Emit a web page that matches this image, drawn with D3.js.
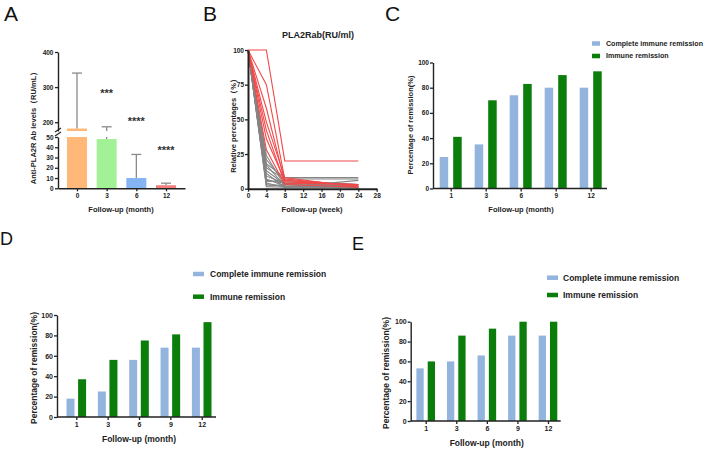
<!DOCTYPE html>
<html>
<head>
<meta charset="utf-8">
<script src="https://cdn.jsdelivr.net/npm/d3@7"></script>
<style>
body { margin: 0; background: #fff; }
svg { display: block; font-family: "Liberation Sans", Arial, sans-serif; }
</style>
</head>
<body>
<svg id="fig" width="708" height="449"></svg>
<script>
// panel A: anti-PLA2R antibody levels
var abMonths = ["0", "3", "6", "12"];
var abMean = [182, 48, 10, 3];
var abUpper = [340, 187, 33, 5];
var abStars = ["", "***", "****", "****"];
var abStarLevel = [null, 290, 209, 39];
var abColors = ["#ffb877", "#a3f197", "#84b5f2", "#f47e7e"];

// panel B: relative PLA2Rab per patient
var weeks = [0, 4, 8, 24];
var redCases = [
    [100, 100, 20, 20],
    [100, 75, 7, 2],
    [100, 58, 5, 3],
    [100, 48, 8, 1],
    [100, 42, 4, 3],
    [100, 36, 6, 2],
    [100, 28, 3, 1]
];
var greyCases = [
    [100, 24, 2, 1],
    [100, 21, 5, 3],
    [100, 18, 8, 8],
    [100, 17, 2, 1],
    [100, 15, 7, 7],
    [100, 13, 3, 2],
    [100, 11, 1, 6],
    [100, 9, 4, 3],
    [100, 7, 2, 1],
    [100, 6, 4, 2],
    [100, 5, 6, 3],
    [100, 4, 1, 1],
    [100, 3, 2, 0.5],
    [100, 2, 3, 2],
    [100, 1.5, 1, 1]
];

// panels C, D, E: remission rates
var remissionMonths = ["1", "3", "6", "9", "12"];
var seriesNames = ["Complete immune remission", "Immune remission"];
var completeC = [25, 35, 74, 80, 80];
var immuneC = [41, 70, 83, 90, 93];
var completeD = [18, 25, 56, 68, 68];
var immuneD = [37, 56, 75, 81, 93];
var completeE = [53, 60, 66, 86, 86];
var immuneE = [60, 86, 93, 100, 100];

var seriesColors = ["#93b4dd", "#0b7d0b"];
var ink = "#222";

var svg = d3.select("#fig");

function styleAxis(g, fontSize) {
    g.attr("font-family", null).attr("font-size", null);
    g.select(".domain").attr("stroke", ink).attr("stroke-width", 1.4);
    g.selectAll(".tick line").attr("stroke", ink).attr("stroke-width", 1.3);
    g.selectAll(".tick text")
        .attr("fill", ink)
        .attr("font-size", fontSize)
        .attr("font-weight", "bold");
}

function yTitle(text, x, y, size) {
    svg.append("text")
        .attr("transform", "translate(" + x + "," + y + ") rotate(-90)")
        .attr("text-anchor", "middle")
        .attr("font-size", size)
        .attr("font-weight", "bold")
        .attr("fill", ink)
        .text(text);
}

function xTitle(text, x, y, size) {
    svg.append("text")
        .attr("x", x).attr("y", y)
        .attr("text-anchor", "middle")
        .attr("font-size", size)
        .attr("font-weight", "bold")
        .attr("fill", ink)
        .text(text);
}

function panelLetter(letter, x, y, size, narrow) {
    svg.append("text")
        .attr("x", x).attr("y", y)
        .attr("font-size", size)
        .attr("font-family", narrow ? "'Liberation Sans Narrow', 'Liberation Sans', Arial" : null)
        .attr("fill", "#111")
        .text(letter);
}

// ---------------- panel A ----------------
(function () {
    var x = d3.scalePoint().domain(abMonths).range([58, 185]).padding(0.64);
    var yLow = d3.scaleLinear().domain([0, 50]).range([188.3, 137]);
    var yHigh = d3.scaleLinear().domain([175, 400]).range([131, 52]);
    var barW = 20;

    var g = svg.append("g");
    abMonths.forEach(function (m, i) {
        var cx = x(m);
        var mean = abMean[i];
        // lower part of the bar
        g.append("rect")
            .attr("x", cx - barW / 2).attr("width", barW)
            .attr("y", yLow(Math.min(mean, 50)))
            .attr("height", yLow(0) - yLow(Math.min(mean, 50)))
            .attr("fill", abColors[i]);
        if (mean > 175) {
            g.append("rect")
                .attr("x", cx - barW / 2).attr("width", barW)
                .attr("y", yHigh(mean))
                .attr("height", yHigh(175) - yHigh(mean))
                .attr("fill", abColors[i]);
        }
        // error bar (upper only)
        var top = abUpper[i];
        var stem = [];
        if (mean < 50) stem.push([yLow(mean), yLow(Math.min(top, 50))]);
        if (top > 175) stem.push([yHigh(Math.max(mean, 175)), yHigh(top)]);
        stem.forEach(function (s) {
            g.append("line")
                .attr("x1", cx).attr("x2", cx)
                .attr("y1", s[0]).attr("y2", s[1])
                .attr("stroke", "#8a8a8a").attr("stroke-width", 1.3);
        });
        var capY = top > 175 ? yHigh(top) : yLow(top);
        g.append("line")
            .attr("x1", cx - 5).attr("x2", cx + 5)
            .attr("y1", capY).attr("y2", capY)
            .attr("stroke", "#8a8a8a").attr("stroke-width", 1.3);
        if (abStars[i]) {
            var lv = abStarLevel[i];
            g.append("text")
                .attr("x", cx)
                .attr("y", (lv > 175 ? yHigh(lv) : yLow(lv)) + 6)
                .attr("text-anchor", "middle")
                .attr("font-size", 11)
                .attr("font-weight", "bold")
                .attr("fill", "#333")
                .text(abStars[i]);
        }
    });

    var axL = svg.append("g").attr("transform", "translate(58,0)")
        .call(d3.axisLeft(yLow).tickValues([0, 10, 20, 30, 40, 50]).tickSize(3).tickSizeOuter(0).tickPadding(1.5));
    styleAxis(axL, 6.5);
    var axH = svg.append("g").attr("transform", "translate(58,0)")
        .call(d3.axisLeft(yHigh).tickValues([200, 300, 400]).tickSize(3).tickSizeOuter(0).tickPadding(1.5));
    styleAxis(axH, 6.5);
    // axis break marks
    [130, 134].forEach(function (yy) {
        svg.append("line")
            .attr("x1", 55).attr("x2", 61)
            .attr("y1", yy + 2).attr("y2", yy - 2)
            .attr("stroke", ink).attr("stroke-width", 1.2);
    });

    var axX = svg.append("g").attr("transform", "translate(0,188.3)")
        .call(d3.axisBottom(x).tickSize(3).tickSizeOuter(0).tickPadding(2));
    styleAxis(axX, 6.5);

    yTitle("Anti-PLA2R Ab levels（RU/mL）", 36, 126, 7.5);
    xTitle("Follow-up  (month)", 121, 212, 7.5);
    panelLetter("A", 4, 21, 21, true);
})();

// ---------------- panel B ----------------
(function () {
    var x = d3.scaleLinear().domain([0, 28]).range([248, 376.7]);
    var y = d3.scaleLinear().domain([0, 100]).range([188.7, 50]);
    var line = d3.line()
        .x(function (d, i) { return x(weeks[i]); })
        .y(function (d) { return y(d); });

    svg.append("g").selectAll("path")
        .data(greyCases)
        .enter().append("path")
        .attr("d", line)
        .attr("fill", "none")
        .attr("stroke", "#858585")
        .attr("stroke-width", 1.1);

    svg.append("g").selectAll("path")
        .data(redCases)
        .enter().append("path")
        .attr("d", line)
        .attr("fill", "none")
        .attr("stroke", "#f24848")
        .attr("stroke-width", 1.1);

    var axY = svg.append("g").attr("transform", "translate(248,0)")
        .call(d3.axisLeft(y).tickValues([0, 25, 50, 75, 100]).tickSize(3).tickSizeOuter(0).tickPadding(1));
    styleAxis(axY, 6.5);
    axY.select(".domain").attr("stroke-width", 2);
    var axX = svg.append("g").attr("transform", "translate(0,188.7)")
        .call(d3.axisBottom(x).tickValues(d3.range(0, 29, 4)).tickSize(3).tickSizeOuter(0).tickPadding(2));
    styleAxis(axX, 6.5);
    axX.select(".domain").attr("stroke-width", 2);

    svg.append("text")
        .attr("x", 318).attr("y", 38)
        .attr("text-anchor", "middle")
        .attr("font-size", 9)
        .attr("font-weight", "bold")
        .attr("fill", ink)
        .text("PLA2Rab(RU/ml)");
    yTitle("Relative percentages（%）", 235.5, 124, 7.5);
    xTitle("Follow-up  (week)", 312, 212, 7.5);
    panelLetter("B", 203, 21, 21, true);
})();

// ---------------- panels C, D, E ----------------
function remissionPanel(complete, immune, L) {
    var x = d3.scalePoint().domain(remissionMonths).range([L.firstX, L.lastX]);
    var y = d3.scaleLinear().domain([0, 100]).range([L.yBottom, L.yTop]);
    var rows = remissionMonths.map(function (m, i) {
        return { month: m, values: [complete[i], immune[i]] };
    });

    var groups = svg.append("g").selectAll("g")
        .data(rows)
        .enter().append("g")
        .attr("transform", function (d) { return "translate(" + x(d.month) + ",0)"; });
    groups.selectAll("rect")
        .data(function (d) { return d.values; })
        .enter().append("rect")
        .attr("x", function (d, j) { return j === 0 ? -L.gap / 2 - L.barW : L.gap / 2; })
        .attr("width", L.barW)
        .attr("y", function (d) { return y(d); })
        .attr("height", function (d) { return y(0) - y(d); })
        .attr("fill", function (d, j) { return seriesColors[j]; });

    var axY = svg.append("g").attr("transform", "translate(" + L.axisX0 + ",0)")
        .call(d3.axisLeft(y).tickValues([0, 20, 40, 60, 80, 100]).tickSize(3).tickSizeOuter(0).tickPadding(1));
    styleAxis(axY, L.tickFont);
    var axX = svg.append("g").attr("transform", "translate(0," + L.yBottom + ")")
        .call(d3.axisBottom(x).tickSize(3).tickSizeOuter(0).tickPadding(2));
    styleAxis(axX, L.tickFont);
    axX.select(".domain").attr("d", "M" + L.axisX0 + ",0H" + L.axisX1);

    seriesNames.forEach(function (name, j) {
        var ly = L.legendY[j];
        svg.append("rect")
            .attr("x", L.swatchX).attr("y", ly - L.swatchH / 2)
            .attr("width", L.swatchW).attr("height", L.swatchH)
            .attr("fill", seriesColors[j]);
        svg.append("text")
            .attr("x", L.legendTextX).attr("y", ly)
            .attr("dy", "0.35em")
            .attr("font-size", L.legendFont)
            .attr("font-weight", "bold")
            .attr("fill", ink)
            .text(name);
    });

    yTitle("Percentage of remission(%)", L.yTitleX, L.yTitleY, L.titleFont);
    xTitle("Follow-up  (month)", L.xTitleX, L.xTitleY, L.titleFont);
}

remissionPanel(completeC, immuneC, {
    firstX: 450.7, lastX: 590.7, axisX0: 433, axisX1: 607,
    yBottom: 188.5, yTop: 62.5, barW: 8.5, gap: 5,
    tickFont: 6.5, titleFont: 7.5, legendFont: 7.1,
    swatchX: 592, swatchW: 8, swatchH: 4.5, legendTextX: 606, legendY: [43.5, 56],
    yTitleX: 413, yTitleY: 125, xTitleX: 521, xTitleY: 212
});
panelLetter("C", 385, 21, 21, true);

remissionPanel(completeD, immuneD, {
    firstX: 76.3, lastX: 201.7, axisX0: 57, axisX1: 216,
    yBottom: 417, yTop: 315, barW: 8, gap: 3.6,
    tickFont: 7, titleFont: 8.5, legendFont: 8.5,
    swatchX: 193, swatchW: 11, swatchH: 4.5, legendTextX: 210, legendY: [274, 296.7],
    yTitleX: 37, yTitleY: 368, xTitleX: 139, xTitleY: 442
});
panelLetter("D", 0, 245, 18, false);

remissionPanel(completeE, immuneE, {
    firstX: 425.7, lastX: 548, axisX0: 410.7, axisX1: 560.7,
    yBottom: 421, yTop: 321.7, barW: 7.3, gap: 4,
    tickFont: 7, titleFont: 8.5, legendFont: 8.5,
    swatchX: 547, swatchW: 11, swatchH: 4.5, legendTextX: 563, legendY: [277.7, 295],
    yTitleX: 389, yTitleY: 373, xTitleX: 486.7, xTitleY: 446
});
panelLetter("E", 352, 250, 18, false);
</script>
</body>
</html>
